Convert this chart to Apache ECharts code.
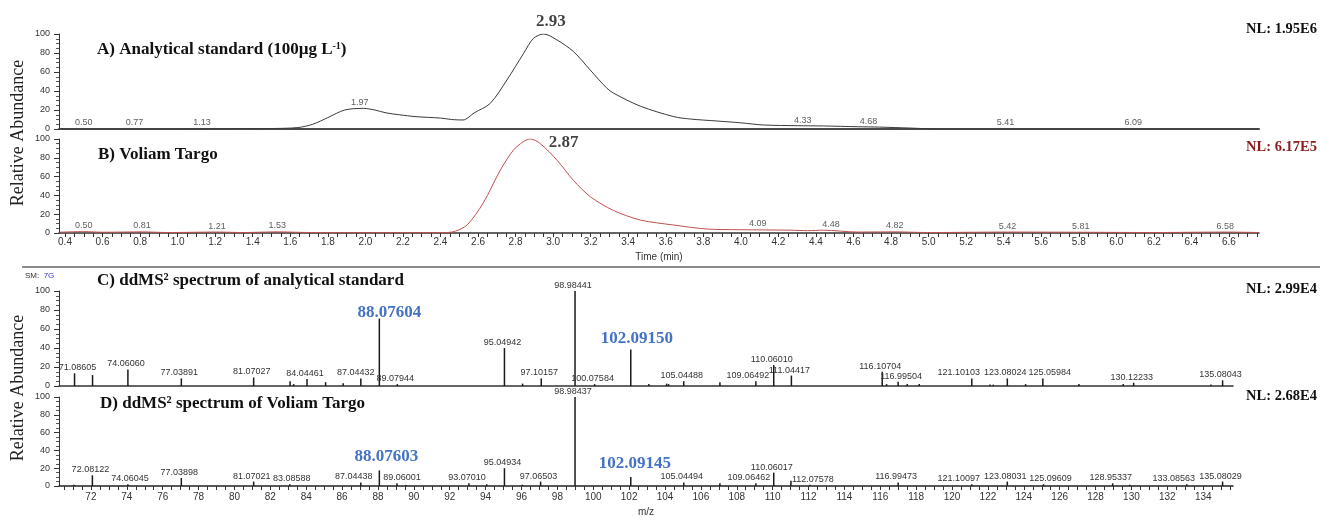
<!DOCTYPE html>
<html>
<head>
<meta charset="utf-8">
<script src="https://cdn.jsdelivr.net/npm/echarts@6/dist/echarts.min.js"></script>
<style>
  html, body { margin: 0; padding: 0; background: #fff; }
  #main { width: 1320px; height: 518px; }
</style>
</head>
<body>
<div id="main"></div>
<script>
// chromatogram A - analytical standard (time min, relative abundance %)
var timeA = [0.37, 1.0, 1.3, 1.5, 1.64, 1.72, 1.8, 1.89, 1.99, 2.05, 2.11, 2.18, 2.27, 2.4, 2.46, 2.52, 2.58, 2.665, 2.754, 2.843, 2.896, 2.95, 3.021, 3.109, 3.198, 3.287, 3.323, 3.465, 3.643, 3.731, 3.874, 4.0, 4.122, 4.3, 4.44, 4.62, 4.74, 4.9, 5.06, 6.76];
var abundA = [0, 0, 0.3, 0.5, 1.5, 5, 12, 20, 21.7, 20, 17, 15, 13, 11.5, 10, 9.5, 17, 27, 51.6, 79.7, 95.5, 100, 93.7, 81.4, 62, 42.8, 37.6, 24, 13, 10.5, 8.4, 6.5, 4.2, 3.5, 3.2, 2.4, 2, 1, 0, 0];
var peaksA = ['0.50', '0.77', '1.13', '1.97', '2.93', '4.33', '4.68', '5.41', '6.09'];
var peaksAh = [0, 0, 0, 21.7, 100, 3, 2, 0.5, 0];

// chromatogram B - Voliam Targo
var timeB = [0.37, 0.5, 0.6, 0.81, 0.95, 1.21, 1.35, 1.53, 1.7, 2.0, 2.415, 2.48, 2.543, 2.628, 2.719, 2.788, 2.84, 2.879, 2.932, 3.023, 3.108, 3.199, 3.321, 3.465, 3.641, 3.822, 3.998, 4.265, 4.355, 4.44, 4.62, 4.82, 5.0, 5.42, 5.81, 6.2, 6.58, 6.76];
var abundB = [0.8, 1.5, 0.8, 1.2, 0.5, 1, 0.5, 1.2, 0.5, 0.3, 0.3, 2, 8.8, 32, 67, 88, 97, 100, 95, 77, 56, 38.5, 24, 13.8, 8.5, 4.2, 3.5, 3, 2.5, 3, 1, 1.2, 0.5, 1, 0.8, 0.5, 1, 0.5];
var peaksB = ['0.50', '0.81', '1.21', '1.53', '2.87', '4.09', '4.48', '4.82', '5.42', '5.81', '6.58'];
var peaksBh = [1.5, 1.2, 1, 1.2, 100, 3.5, 3, 1.2, 1, 0.8, 1];

// spectrum C - analytical standard (labelled peaks + small unlabelled peaks)
var specCmz = ['71.08605', '74.06060', '77.03891', '81.07027', '84.04461', '87.04432', '88.07604', '89.07944', '95.04942', '97.10157', '98.98441', '100.07584', '102.09150', '105.04488', '109.06492', '110.06010', '111.04417', '116.10704', '116.99504', '121.10103', '123.08024', '125.05984', '130.12233', '135.08043'];
var specCint = [13.4, 17.5, 8, 9, 7.5, 8, 71, 2, 40, 8, 100, 2, 38.5, 5, 5, 22, 11, 15, 4.5, 8, 8, 8, 3.5, 6];
var minorCmz = [72.09, 83.1, 83.3, 85.08, 86.06, 96.06, 103.1, 104.09, 104.2, 107.06, 116.35, 117.5, 118.17, 122.11, 122.3, 124.1, 127.07, 129.54, 134.43];
var minorCint = [11.5, 5, 2, 4, 3, 2.5, 2, 2.5, 2, 4, 2, 2, 2, 1.5, 1.5, 2, 2, 2, 1.5];

// spectrum D - Voliam Targo
var specDmz = ['72.08122', '74.06045', '77.03898', '81.07021', '83.08588', '87.04438', '88.07603', '89.06001', '93.07010', '95.04934', '97.06503', '98.98437', '102.09145', '105.04494', '109.06462', '110.06017', '112.07578', '116.99473', '121.10097', '123.08031', '125.09609', '128.95337', '133.08563', '135.08029'];
var specDint = [12, 2, 9, 5, 2, 4, 17.5, 3, 3, 20, 5, 100, 10, 4, 3, 15, 1.5, 4, 2, 5, 2, 3, 2, 5];
var minorDmz = [71.05, 89.56, 94.06, 96.04, 107.06, 111.02, 129.9];
var minorDint = [1.5, 1, 2, 1.5, 3, 6, 1.5];

// axis ticks
var timeLabels = [0.4, 0.6, 0.8, 1.0, 1.2, 1.4, 1.6, 1.8, 2.0, 2.2, 2.4, 2.6, 2.8, 3.0, 3.2, 3.4, 3.6, 3.8, 4.0, 4.2, 4.4, 4.6, 4.8, 5.0, 5.2, 5.4, 5.6, 5.8, 6.0, 6.2, 6.4, 6.6];
var mzLabels = [72, 74, 76, 78, 80, 82, 84, 86, 88, 90, 92, 94, 96, 98, 100, 102, 104, 106, 108, 110, 112, 114, 116, 118, 120, 122, 124, 126, 128, 130, 132, 134];
var timeTicks = [];
for (var i = 0; i <= 127; i++) timeTicks.push(Math.round((0.4 + i * 0.05) * 100) / 100);
var mzTicks = [];
for (var j = 0; j <= 130; j++) mzTicks.push(70.5 + j * 0.5);

var SANS = '"Liberation Sans", Arial, sans-serif';
var SERIF = '"Liberation Serif", "Times New Roman", serif';
var BLUE = '#4472C4';

// big annotations
var bigLabel = {
  '2.93': { offset: [11, -2] },
  '2.87': { offset: [35, 14] },
  '88.07604': { offset: [10, 4], color: BLUE },
  '102.09150': { offset: [6, -1], color: BLUE },
  '88.07603': { offset: [7, -4], color: BLUE },
  '102.09145': { offset: [4, -4], color: BLUE }
};
// small peak labels pushed sideways to avoid collisions
var shiftLabel = {
  '71.08605': 3, '87.04432': -5, '109.06492': -8, '121.10103': -13, '125.05984': 7, '116.99504': 3,
  '87.04438': -7, '89.06001': 5, '109.06462': -7, '121.10097': -13, '125.09609': 7,
  '133.08563': -13, '74.06045': 2, '83.08588': 2, '112.07578': 3
};

function bigStyle(name) {
  var b = bigLabel[name];
  if (!b) return null;
  return { fontSize: 17, fontWeight: 'bold', fontFamily: SERIF, color: b.color || '#111', offset: b.offset };
}

function pairs(xs, ys) {
  return xs.map(function (x, k) { return [x, ys[k]]; });
}

function labelPoints(names, hs) {
  return names.map(function (n, k) {
    var item = { name: n, value: [parseFloat(n), hs[k]] };
    var s = bigStyle(n);
    if (s) item.label = s;
    return item;
  });
}

function sticks(mz, ints, mmz, mints) {
  var out = mz.map(function (n, k) {
    var item = { name: n, value: [parseFloat(n), ints[k]] };
    var s = bigStyle(n);
    if (s) item.label = s;
    else item.label = { offset: [shiftLabel[n] !== undefined ? shiftLabel[n] : -2, 0] };
    return item;
  });
  mmz.forEach(function (m, k) {
    out.push({ name: '', value: [m, mints[k]], label: { show: false } });
  });
  return out;
}

var chart = echarts.init(document.getElementById('main'));

var grids = [
  { left: 59, top: 34, width: 1200, height: 95 },
  { left: 59, top: 139, width: 1200, height: 94 },
  { left: 59, top: 291, width: 1174, height: 95 },
  { left: 59, top: 397, width: 1174, height: 94 }
];

function yAx(idx) {
  return {
    gridIndex: idx, type: 'value', min: 0, max: 100, interval: 20,
    axisLine: { show: true, lineStyle: { color: '#333' } },
    axisTick: { show: true, length: 5, lineStyle: { color: '#333' } },
    minorTick: { show: true, splitNumber: 4, length: 3, lineStyle: { color: '#555' } },
    axisLabel: { fontSize: 9, color: '#333', margin: 9, fontFamily: SANS },
    splitLine: { show: false }
  };
}

var tinyLabel = { show: true, position: 'top', distance: 1, fontSize: 9, color: '#333', fontFamily: SANS, formatter: '{b}' };

var option = {
  animation: false,
  backgroundColor: '#fff',
  grid: grids,
  xAxis: [
    { gridIndex: 0, type: 'value', min: 0.368, max: 6.76,
      axisLine: { onZero: false, lineStyle: { color: '#4a4a4a', width: 2 } },
      axisTick: { show: false }, axisLabel: { show: false }, splitLine: { show: false } },
    { gridIndex: 1, type: 'value', min: 0.368, max: 6.76,
      axisLine: { onZero: false, lineStyle: { color: '#333', width: 1.5 } },
      axisTick: { customValues: timeTicks, length: 4, lineStyle: { color: '#333' } },
      axisLabel: { customValues: timeLabels, fontSize: 10, color: '#333', margin: 4, fontFamily: SANS,
        formatter: function (v) { return v.toFixed(1); } },
      splitLine: { show: false },
      name: 'Time (min)', nameLocation: 'middle', nameGap: 19,
      nameTextStyle: { fontSize: 10, color: '#333', fontFamily: SANS } },
    { gridIndex: 2, type: 'value', min: 70.22, max: 135.66,
      axisLine: { onZero: false, lineStyle: { color: '#333', width: 1.5 } },
      axisTick: { show: false }, axisLabel: { show: false }, splitLine: { show: false } },
    { gridIndex: 3, type: 'value', min: 70.22, max: 135.66,
      axisLine: { onZero: false, lineStyle: { color: '#222', width: 1.5 } },
      axisTick: { customValues: mzTicks, length: 4, lineStyle: { color: '#333' } },
      axisLabel: { customValues: mzLabels, fontSize: 10, color: '#333', margin: 6, fontFamily: SANS },
      splitLine: { show: false },
      name: 'm/z', nameLocation: 'middle', nameGap: 21,
      nameTextStyle: { fontSize: 10, color: '#333', fontFamily: SANS } }
  ],
  yAxis: [yAx(0), yAx(1), yAx(2), yAx(3)],
  series: [
    { type: 'line', xAxisIndex: 0, yAxisIndex: 0, data: pairs(timeA, abundA), showSymbol: false,
      smooth: 0.3, lineStyle: { color: '#3a3a3a', width: 1 }, silent: true },
    { type: 'scatter', xAxisIndex: 0, yAxisIndex: 0, data: labelPoints(peaksA, peaksAh),
      symbolSize: 1, itemStyle: { color: 'rgba(0,0,0,0)' }, label: tinyLabel, silent: true },
    { type: 'line', xAxisIndex: 1, yAxisIndex: 1, data: pairs(timeB, abundB), showSymbol: false,
      smooth: 0.3, lineStyle: { color: '#C0504D', width: 1 }, silent: true },
    { type: 'scatter', xAxisIndex: 1, yAxisIndex: 1, data: labelPoints(peaksB, peaksBh),
      symbolSize: 1, itemStyle: { color: 'rgba(0,0,0,0)' }, label: tinyLabel, silent: true },
    { type: 'bar', xAxisIndex: 2, yAxisIndex: 2, data: sticks(specCmz, specCint, minorCmz, minorCint),
      barWidth: 1.5, clip: false, itemStyle: { color: '#1a1a1a' }, label: tinyLabel, silent: true },
    { type: 'bar', xAxisIndex: 3, yAxisIndex: 3, data: sticks(specDmz, specDint, minorDmz, minorDint),
      barWidth: 1.5, clip: false, itemStyle: { color: '#1a1a1a' }, label: tinyLabel, silent: true }
  ],
  graphic: [
    { type: 'line', shape: { x1: 22, y1: 267, x2: 1320, y2: 267 }, style: { stroke: '#666', lineWidth: 1.5 } },
    { type: 'text', x: 18, y: 133, rotation: Math.PI / 2,
      style: { text: 'Relative Abundance', font: '18px ' + SERIF, fill: '#222', textAlign: 'center', textVerticalAlign: 'middle' } },
    { type: 'text', x: 18, y: 388, rotation: Math.PI / 2,
      style: { text: 'Relative Abundance', font: '18px ' + SERIF, fill: '#222', textAlign: 'center', textVerticalAlign: 'middle' } },
    { type: 'text', x: 97, y: 50,
      style: { text: '{a|A) Analytical standard (100µg L}{s|-1}{a|)}', textVerticalAlign: 'middle',
        rich: { a: { font: 'bold 17px ' + SERIF, fill: '#111' }, s: { font: 'bold 10px ' + SERIF, fill: '#111', verticalAlign: 'top' } } } },
    { type: 'text', x: 98, y: 155,
      style: { text: 'B) Voliam Targo', font: 'bold 17px ' + SERIF, fill: '#111', textVerticalAlign: 'middle' } },
    { type: 'text', x: 97, y: 281,
      style: { text: 'C) ddMS² spectrum of analytical standard', font: 'bold 17px ' + SERIF, fill: '#111', textVerticalAlign: 'middle' } },
    { type: 'text', x: 100, y: 404,
      style: { text: 'D) ddMS² spectrum of Voliam Targo', font: 'bold 17px ' + SERIF, fill: '#111', textVerticalAlign: 'middle' } },
    { type: 'text', x: 1317, y: 29,
      style: { text: 'NL: 1.95E6', font: 'bold 14.5px ' + SERIF, fill: '#111', textAlign: 'right', textVerticalAlign: 'middle' } },
    { type: 'text', x: 1317, y: 147,
      style: { text: 'NL: 6.17E5', font: 'bold 14.5px ' + SERIF, fill: '#8B1A1A', textAlign: 'right', textVerticalAlign: 'middle' } },
    { type: 'text', x: 1317, y: 289,
      style: { text: 'NL: 2.99E4', font: 'bold 14.5px ' + SERIF, fill: '#111', textAlign: 'right', textVerticalAlign: 'middle' } },
    { type: 'text', x: 1317, y: 396,
      style: { text: 'NL: 2.68E4', font: 'bold 14.5px ' + SERIF, fill: '#111', textAlign: 'right', textVerticalAlign: 'middle' } },
    { type: 'text', x: 25, y: 276,
      style: { text: '{a|SM:  }{b|7G}', textVerticalAlign: 'middle',
        rich: { a: { font: '8px ' + SANS, fill: '#333' }, b: { font: '8px ' + SANS, fill: '#3333CC' } } } }
  ]
};

chart.setOption(option);
</script>
</body>
</html>
